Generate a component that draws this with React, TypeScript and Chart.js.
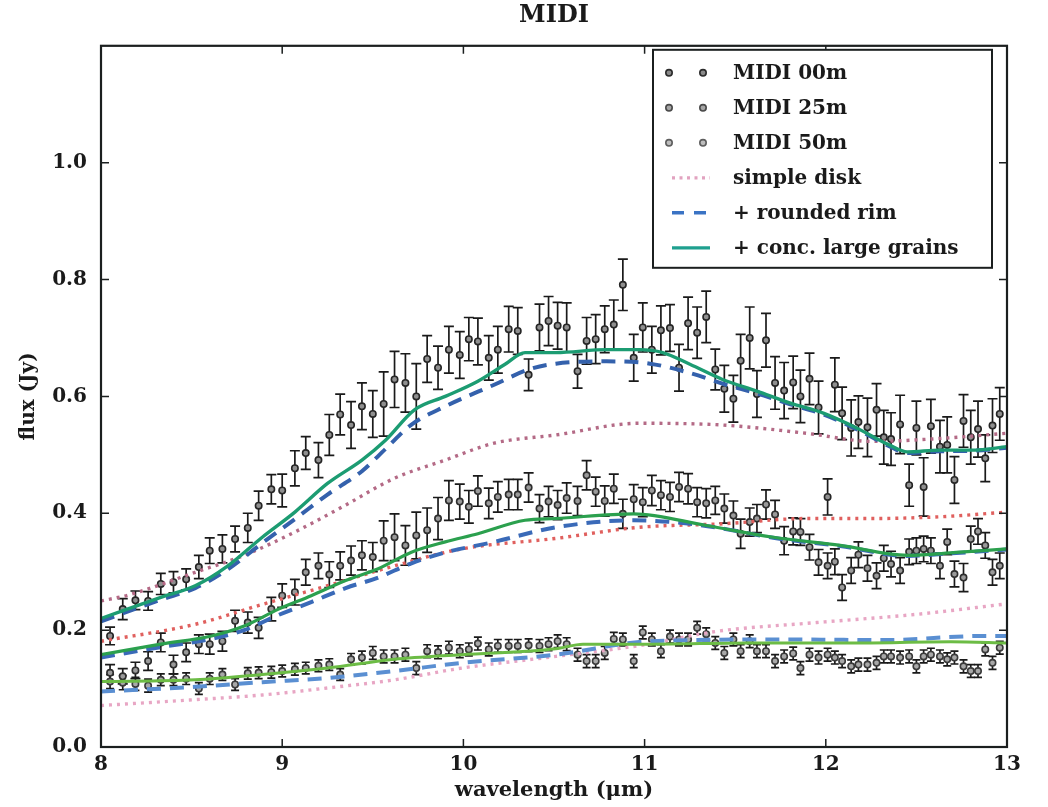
import React, { useEffect, useRef } from 'react';
import { Chart, registerables } from 'chart.js';

Chart.register(...registerables);

// ---------- data ----------
const wavelength = [
  8.05, 8.12, 8.19, 8.26, 8.33, 8.40, 8.47, 8.54, 8.60, 8.67,
  8.74, 8.81, 8.87, 8.94, 9.00, 9.07, 9.13, 9.20, 9.26, 9.32,
  9.38, 9.44, 9.50, 9.56, 9.62, 9.68, 9.74, 9.80, 9.86, 9.92,
  9.98, 10.03, 10.08, 10.14, 10.19, 10.25, 10.30, 10.36, 10.42, 10.47,
  10.52, 10.57, 10.63, 10.68, 10.73, 10.78, 10.83, 10.88, 10.94, 10.99,
  11.04, 11.09, 11.14, 11.19, 11.24, 11.29, 11.34, 11.39, 11.44, 11.49,
  11.53, 11.58, 11.62, 11.67, 11.72, 11.77, 11.82, 11.86, 11.91, 11.96,
  12.01, 12.05, 12.09, 12.14, 12.18, 12.23, 12.28, 12.32, 12.36, 12.41,
  12.46, 12.50, 12.54, 12.58, 12.63, 12.67, 12.71, 12.76, 12.80, 12.84,
  12.88, 12.92, 12.96,
];

const midi00 = [
  0.190, 0.236, 0.251, 0.250, 0.279, 0.282, 0.287, 0.308, 0.336, 0.339,
  0.356, 0.375, 0.413, 0.441, 0.439, 0.477, 0.503, 0.491, 0.534, 0.569,
  0.551, 0.583, 0.570, 0.587, 0.629, 0.623, 0.600, 0.664, 0.649, 0.680,
  0.671, 0.698, 0.694, 0.666, 0.680, 0.715, 0.712, 0.637, 0.718, 0.729,
  0.721, 0.718, 0.643, 0.695, 0.698, 0.715, 0.723, 0.791, 0.666, 0.718,
  0.680, 0.713, 0.717, 0.649, 0.725, 0.709, 0.736, 0.646, 0.613, 0.596,
  0.661, 0.700, 0.604, 0.696, 0.623, 0.610, 0.624, 0.600, 0.630, 0.581,
  0.428, 0.620, 0.571, 0.546, 0.556, 0.547, 0.577, 0.530, 0.527, 0.552,
  0.448, 0.546, 0.445, 0.549, 0.514, 0.517, 0.457, 0.558, 0.530, 0.544,
  0.494, 0.550, 0.570,
];
const err00 = [
  0.015, 0.018, 0.016, 0.016, 0.018, 0.018, 0.018, 0.020,
  0.022, 0.024, 0.022, 0.025, 0.025, 0.025,
  0.028, 0.030, 0.028, 0.030, 0.035,
  0.035, 0.040, 0.040, 0.040, 0.055,
  0.048, 0.050, 0.056, 0.040, 0.037, 0.040, 0.040,
  0.037, 0.040, 0.038, 0.040, 0.039, 0.040, 0.027, 0.040, 0.042, 0.040, 0.042,
  0.029, 0.040, 0.042, 0.040, 0.042, 0.044, 0.040, 0.042, 0.040, 0.042, 0.040, 0.040, 0.045, 0.044, 0.044, 0.035, 0.040, 0.040,
  0.045, 0.053, 0.040, 0.046, 0.045, 0.048, 0.045, 0.045, 0.044, 0.045,
  0.031, 0.046, 0.045, 0.048, 0.045, 0.050, 0.045, 0.046, 0.045, 0.050,
  0.036, 0.046, 0.050, 0.046, 0.045, 0.048, 0.040, 0.045, 0.046, 0.048,
  0.040, 0.046, 0.045,
];

const midi25 = [
  0.127, 0.121, 0.131, 0.147, 0.179, 0.141, 0.162, 0.176, 0.176, 0.181,
  0.216, 0.213, 0.204, 0.236, 0.259, 0.265, 0.299, 0.310, 0.295, 0.310,
  0.319, 0.328, 0.325, 0.353, 0.359, 0.345, 0.362, 0.371, 0.391, 0.422,
  0.420, 0.411, 0.438, 0.417, 0.428, 0.432, 0.432, 0.444, 0.408, 0.420,
  0.414, 0.426, 0.421, 0.465, 0.437, 0.421, 0.442, 0.399, 0.424, 0.419,
  0.439, 0.431, 0.428, 0.445, 0.442, 0.419, 0.417, 0.422, 0.408, 0.396,
  0.365, 0.385, 0.391, 0.415, 0.398, 0.353, 0.369, 0.368, 0.342, 0.316,
  0.310, 0.317, 0.273, 0.302, 0.329, 0.306, 0.293, 0.323, 0.313, 0.302,
  0.334, 0.336, 0.339, 0.336, 0.310, 0.351, 0.296, 0.290, 0.356, 0.369,
  0.345, 0.299, 0.310,
];
const err25 = [
  0.014, 0.013, 0.014, 0.016, 0.016, 0.016, 0.016, 0.016, 0.017, 0.017,
  0.018, 0.018, 0.018, 0.020,
  0.020, 0.022, 0.022, 0.022, 0.022, 0.024, 0.025, 0.025, 0.025,
  0.034, 0.040, 0.034, 0.040, 0.038, 0.036, 0.034, 0.030,
  0.028, 0.026, 0.026, 0.026, 0.026, 0.026, 0.025, 0.024, 0.026, 0.025,
  0.026, 0.025, 0.025, 0.025, 0.026, 0.025, 0.025, 0.025, 0.025, 0.026,
  0.025, 0.025, 0.025, 0.026, 0.025, 0.025, 0.024, 0.025, 0.025,
  0.025, 0.024, 0.024, 0.025, 0.024, 0.024, 0.023, 0.023, 0.022, 0.022,
  0.022, 0.022, 0.022, 0.022, 0.022, 0.022, 0.022, 0.022, 0.022, 0.022,
  0.022, 0.022, 0.022, 0.022, 0.022, 0.022, 0.022, 0.024, 0.022, 0.022,
  0.022, 0.022, 0.022,
];

const midi50 = [
  0.112, 0.110, 0.108, 0.105, 0.115, 0.115, 0.117, 0.100, 0.117, 0.124,
  0.107, 0.126, 0.127, 0.128, 0.130, 0.133, 0.135, 0.139, 0.141, 0.124,
  0.150, 0.153, 0.161, 0.155, 0.155, 0.158, 0.135, 0.164, 0.162, 0.170,
  0.164, 0.167, 0.177, 0.167, 0.173, 0.173, 0.173, 0.174, 0.173, 0.176,
  0.181, 0.176, 0.158, 0.147, 0.147, 0.161, 0.185, 0.184, 0.147, 0.196,
  0.184, 0.164, 0.189, 0.184, 0.184, 0.204, 0.193, 0.178, 0.161, 0.184,
  0.164, 0.181, 0.164, 0.164, 0.147, 0.155, 0.160, 0.135, 0.158, 0.153,
  0.158, 0.153, 0.147, 0.138, 0.141, 0.141, 0.144, 0.155, 0.155, 0.153,
  0.155, 0.138, 0.155, 0.158, 0.155, 0.150, 0.153, 0.138, 0.130, 0.130,
  0.167, 0.144, 0.170,
];
const err50 = [
  0.012, 0.012, 0.011, 0.011, 0.010, 0.010, 0.010, 0.010, 0.010, 0.010,
  0.010, 0.010, 0.010, 0.010, 0.010, 0.010, 0.010, 0.010, 0.010, 0.010,
  0.010, 0.011, 0.011, 0.011, 0.011, 0.011, 0.011, 0.011, 0.011, 0.011,
  0.011, 0.011, 0.011, 0.011, 0.011, 0.011, 0.011, 0.011, 0.011, 0.011,
  0.011, 0.011, 0.011, 0.011, 0.011, 0.011, 0.011, 0.011, 0.011, 0.011,
  0.011, 0.011, 0.011, 0.011, 0.011, 0.011, 0.011, 0.011, 0.011, 0.011,
  0.011, 0.011, 0.011, 0.011, 0.011, 0.011, 0.011, 0.011, 0.011, 0.011,
  0.011, 0.011, 0.011, 0.011, 0.011, 0.011, 0.011, 0.011, 0.011, 0.011,
  0.011, 0.011, 0.011, 0.011, 0.011, 0.011, 0.011, 0.011, 0.011, 0.011,
  0.011, 0.011, 0.011,
];

// models: simple disk (dotted), + rounded rim (dashed), + conc. large grains (solid)
const disk00Wave = [8.0, 8.15, 8.52, 8.79, 9.07, 9.35, 9.62, 9.9, 10.17, 10.51, 10.97, 11.43, 11.89, 12.26, 12.63, 13.0];
const disk00Flux = [0.25, 0.26, 0.299, 0.328, 0.368, 0.414, 0.46, 0.491, 0.52, 0.534, 0.554, 0.551, 0.537, 0.523, 0.528, 0.537];
const rim00Wave = [8.0, 8.33, 8.52, 8.7, 8.89, 9.07, 9.25, 9.44, 9.57, 9.71, 9.9, 10.17, 10.36, 10.51, 10.79, 11.03, 11.25, 11.45, 11.62, 11.8, 11.99, 12.17, 12.35, 12.45, 12.63, 12.81, 13.0];
const rim00Flux = [0.215, 0.252, 0.272, 0.304, 0.349, 0.39, 0.432, 0.472, 0.51, 0.551, 0.583, 0.62, 0.646, 0.656, 0.66, 0.656, 0.64, 0.62, 0.605, 0.587, 0.569, 0.544, 0.515, 0.503, 0.506, 0.507, 0.512];
const grains00Wave = [8.0, 8.33, 8.52, 8.7, 8.89, 9.07, 9.25, 9.44, 9.57, 9.73, 9.9, 10.08, 10.23, 10.34, 10.51, 10.79, 10.97, 11.1, 11.25, 11.43, 11.62, 11.8, 11.99, 12.17, 12.35, 12.45, 12.63, 12.81, 13.0];
const grains00Flux = [0.22, 0.256, 0.276, 0.31, 0.359, 0.402, 0.451, 0.491, 0.525, 0.577, 0.6, 0.626, 0.655, 0.675, 0.675, 0.68, 0.68, 0.675, 0.655, 0.629, 0.609, 0.589, 0.571, 0.546, 0.517, 0.505, 0.508, 0.508, 0.514];

const disk25Wave = [8.0, 8.52, 8.89, 9.25, 9.62, 9.99, 10.51, 10.97, 11.43, 11.89, 12.26, 12.63, 13.0];
const disk25Flux = [0.181, 0.21, 0.244, 0.276, 0.31, 0.339, 0.357, 0.376, 0.382, 0.391, 0.391, 0.394, 0.402];
const rim25Wave = [8.0, 8.33, 8.61, 8.79, 8.98, 9.16, 9.35, 9.53, 9.71, 9.9, 10.17, 10.51, 10.94, 11.25, 11.5, 11.71, 12.08, 12.45, 12.72, 13.0];
const rim25Flux = [0.153, 0.171, 0.185, 0.2, 0.226, 0.248, 0.272, 0.29, 0.314, 0.333, 0.351, 0.376, 0.388, 0.382, 0.37, 0.358, 0.344, 0.327, 0.332, 0.338];
const grains25Wave = [8.0, 8.33, 8.61, 8.79, 8.98, 9.16, 9.35, 9.53, 9.71, 9.9, 10.08, 10.34, 10.51, 10.94, 11.34, 11.71, 12.08, 12.45, 12.72, 13.0];
const grains25Flux = [0.158, 0.176, 0.19, 0.207, 0.236, 0.259, 0.285, 0.305, 0.333, 0.351, 0.365, 0.388, 0.391, 0.399, 0.379, 0.359, 0.345, 0.328, 0.333, 0.339];

const disk50Wave = [8.0, 8.52, 8.89, 9.25, 9.62, 9.99, 10.51, 11.0, 11.4, 11.95, 12.5, 13.0];
const disk50Flux = [0.071, 0.081, 0.089, 0.101, 0.115, 0.135, 0.155, 0.175, 0.198, 0.213, 0.227, 0.245];
const rim50Wave = [8.0, 8.52, 8.89, 9.25, 9.62, 9.99, 10.51, 11.03, 11.77, 12.32, 12.87, 13.0];
const rim50Flux = [0.095, 0.103, 0.111, 0.118, 0.13, 0.144, 0.158, 0.181, 0.184, 0.183, 0.19, 0.19];
const grains50Wave = [8.0, 8.52, 8.89, 9.25, 9.62, 9.99, 10.51, 10.66, 11.03, 11.58, 12.13, 12.69, 13.0];
const grains50Flux = [0.112, 0.115, 0.124, 0.135, 0.15, 0.158, 0.168, 0.176, 0.176, 0.178, 0.178, 0.18, 0.178];

const xTicks = [8, 9, 10, 11, 12, 13];
const yTicks = [0.0, 0.2, 0.4, 0.6, 0.8, 1.0];
const legendLabels = ['MIDI 00m', 'MIDI 25m', 'MIDI 50m', 'simple disk', '+ rounded rim', '+ conc. large grains'];

// ---------- helpers ----------
const FONT = '"DejaVu Serif", "Liberation Serif", serif';
const INK = '#1b1f1f';

const pts = (xs: number[], ys: number[]) => xs.map((x, i) => ({ x, y: ys[i] }));

const dataSet = (label: string, ys: number[], errs: number[], edge: string, fill: string, cap: number) => ({
  label,
  data: pts(wavelength, ys),
  errors: errs,
  errCap: cap,
  showLine: false,
  pointRadius: 3.2,
  pointBorderWidth: 1.6,
  pointBorderColor: edge,
  pointBackgroundColor: fill,
  order: 10,
});

const modelSet = (label: string, xs: number[], ys: number[], color: string, width: number, dash: number[], order: number) => ({
  label,
  data: pts(xs, ys),
  showLine: true,
  borderColor: color,
  borderWidth: width,
  borderDash: dash,
  pointRadius: 0,
  cubicInterpolationMode: 'monotone',
  fill: false,
  order,
});

const errorBarPlugin = {
  id: 'errorBars',
  beforeDatasetsDraw(chart: any) {
    const { ctx, chartArea, scales } = chart;
    const xs = scales.x;
    const ys = scales.y;
    ctx.save();
    ctx.beginPath();
    ctx.rect(chartArea.left, chartArea.top, chartArea.right - chartArea.left, chartArea.bottom - chartArea.top);
    ctx.clip();
    ctx.strokeStyle = '#1a1a1a';
    ctx.lineWidth = 1.7;
    chart.data.datasets.forEach((ds: any) => {
      if (!ds.errors) return;
      const cap = ds.errCap;
      ds.data.forEach((p: any, j: number) => {
        const e = ds.errors[j];
        const px = xs.getPixelForValue(p.x);
        const top = ys.getPixelForValue(p.y + e);
        const bot = ys.getPixelForValue(p.y - e);
        ctx.beginPath();
        ctx.moveTo(px, top);
        ctx.lineTo(px, bot);
        ctx.moveTo(px - cap, top);
        ctx.lineTo(px + cap, top);
        ctx.moveTo(px - cap, bot);
        ctx.lineTo(px + cap, bot);
        ctx.stroke();
      });
    });
    ctx.restore();
  },
};

const framePlugin = {
  id: 'frameTicks',
  afterDatasetsDraw(chart: any) {
    const { ctx, chartArea: a, scales } = chart;
    ctx.save();
    ctx.strokeStyle = INK;
    ctx.lineWidth = 1.5;
    const tl = 8;
    xTicks.forEach((v) => {
      if (v === xTicks[0] || v === xTicks[xTicks.length - 1]) return;
      const px = scales.x.getPixelForValue(v);
      ctx.beginPath();
      ctx.moveTo(px, a.bottom);
      ctx.lineTo(px, a.bottom - tl);
      ctx.moveTo(px, a.top);
      ctx.lineTo(px, a.top + tl);
      ctx.stroke();
    });
    yTicks.forEach((v) => {
      if (v === 0) return;
      const py = scales.y.getPixelForValue(v);
      ctx.beginPath();
      ctx.moveTo(a.left, py);
      ctx.lineTo(a.left + tl, py);
      ctx.moveTo(a.right, py);
      ctx.lineTo(a.right - tl, py);
      ctx.stroke();
    });
    ctx.lineWidth = 2.2;
    ctx.strokeRect(a.left, a.top, a.right - a.left, a.bottom - a.top);
    ctx.restore();
  },
};

const legendPlugin = {
  id: 'boxLegend',
  afterDraw(chart: any) {
    const { ctx, chartArea: a } = chart;
    const bw = 339;
    const bh = 218;
    const bx = a.right - 15 - bw;
    const by = a.top + 4;
    ctx.save();
    ctx.fillStyle = '#ffffff';
    ctx.fillRect(bx, by, bw, bh);
    ctx.strokeStyle = INK;
    ctx.lineWidth = 2;
    ctx.strokeRect(bx, by, bw, bh);
    const rowY = (i: number) => by + 23 + i * 35;
    const m1 = bx + 16;
    const m2 = bx + 50;
    const dotEdges = ['#2c2c2c', '#4a4a4a', '#5e5e5e'];
    const dotFills = ['#8a8a8a', '#a6a6a6', '#bdbdbd'];
    for (let i = 0; i < 3; i++) {
      [m1, m2].forEach((mx) => {
        ctx.beginPath();
        ctx.arc(mx, rowY(i), 3.2, 0, Math.PI * 2);
        ctx.fillStyle = dotFills[i];
        ctx.fill();
        ctx.lineWidth = 1.6;
        ctx.strokeStyle = dotEdges[i];
        ctx.stroke();
      });
    }
    const lineRow = (i: number, color: string, width: number, dash: number[]) => {
      ctx.beginPath();
      ctx.setLineDash(dash);
      ctx.strokeStyle = color;
      ctx.lineWidth = width;
      ctx.moveTo(bx + 19, rowY(i));
      ctx.lineTo(bx + 57, rowY(i));
      ctx.stroke();
      ctx.setLineDash([]);
    };
    lineRow(3, '#e2a3c0', 3.2, [3, 4.5]);
    lineRow(4, '#3a73c4', 3.6, [12, 10]);
    lineRow(5, '#1fa08f', 3.2, []);
    ctx.fillStyle = '#1a1a1a';
    ctx.font = `bold 20px ${FONT}`;
    ctx.textBaseline = 'middle';
    ctx.textAlign = 'left';
    legendLabels.forEach((t, i) => ctx.fillText(t, bx + 80, rowY(i) + 1));
    ctx.restore();
  },
};

export default function App() {
  const canvasRef = useRef<HTMLCanvasElement | null>(null);

  useEffect(() => {
    if (!canvasRef.current) return;
    const tickFont = { family: FONT, size: 20, weight: 'bold' as const };
    const chart = new Chart(canvasRef.current, {
      type: 'scatter',
      data: {
        datasets: [
          dataSet('MIDI 00m', midi00, err00, '#262626', '#8f8f8f', 5),
          dataSet('MIDI 25m', midi25, err25, '#2e2e2e', '#9a9a9a', 5),
          dataSet('MIDI 50m', midi50, err50, '#3a3a3a', '#a8a8a8', 4),
          modelSet('simple disk 00m', disk00Wave, disk00Flux, '#b46a86', 3.4, [3, 5], 5),
          modelSet('simple disk 25m', disk25Wave, disk25Flux, '#e0605e', 3.4, [3, 5], 5),
          modelSet('simple disk 50m', disk50Wave, disk50Flux, '#e8a6c4', 3.4, [3, 5], 5),
          modelSet('rounded rim 00m', rim00Wave, rim00Flux, '#3461ac', 4, [14, 9], 3),
          modelSet('rounded rim 25m', rim25Wave, rim25Flux, '#3a6ab8', 4, [14, 9], 3),
          modelSet('rounded rim 50m', rim50Wave, rim50Flux, '#5a8fd2', 4, [14, 9], 3),
          modelSet('large grains 00m', grains00Wave, grains00Flux, '#1c9c72', 3.4, [], 1),
          modelSet('large grains 25m', grains25Wave, grains25Flux, '#2ba04e', 3.2, [], 1),
          modelSet('large grains 50m', grains50Wave, grains50Flux, '#6cbc45', 3, [], 1),
        ] as any,
      },
      options: {
        responsive: false,
        animation: false,
        layout: { padding: { left: 0, right: 41, top: 0, bottom: 0 } },
        plugins: {
          legend: { display: false },
          tooltip: { enabled: false },
          title: {
            display: true,
            fullSize: false,
            text: 'MIDI',
            color: '#1a1a1a',
            font: { family: FONT, size: 24, weight: 'bold' },
            padding: { top: 1, bottom: 16 },
          },
        },
        scales: {
          x: {
            type: 'linear',
            min: 8,
            max: 13,
            afterBuildTicks: (s: any) => {
              s.ticks = xTicks.map((v) => ({ value: v }));
            },
            afterFit: (s: any) => {
              s.height = 60;
            },
            grid: { display: false, drawTicks: false },
            border: { display: false },
            ticks: {
              padding: 6,
              color: '#1a1a1a',
              font: tickFont,
              maxRotation: 0,
              callback: (v: any) => String(v),
            },
            title: {
              display: true,
              text: 'wavelength (μm)',
              color: '#1a1a1a',
              font: { family: FONT, size: 21, weight: 'bold' },
              padding: { top: 0, bottom: 4 },
            },
          },
          y: {
            type: 'linear',
            min: 0,
            max: 1.2,
            afterBuildTicks: (s: any) => {
              s.ticks = yTicks.map((v) => ({ value: v }));
            },
            afterFit: (s: any) => {
              s.width = 101;
            },
            grid: { display: false, drawTicks: false },
            border: { display: false },
            ticks: {
              padding: 14,
              color: '#1a1a1a',
              font: tickFont,
              callback: (v: any) => Number(v).toFixed(1),
            },
            title: {
              display: true,
              text: 'flux (Jy)',
              color: '#1a1a1a',
              font: { family: FONT, size: 20, weight: 'bold' },
              padding: { top: 17, bottom: 0 },
            },
          },
        },
      } as any,
      plugins: [errorBarPlugin, framePlugin, legendPlugin],
    });
    return () => chart.destroy();
  }, []);

  return (
    <div style={{ position: 'absolute', left: 0, top: 0, width: 1048, height: 807, background: '#ffffff' }}>
      <canvas ref={canvasRef} width={1048} height={807} style={{ display: 'block', width: 1048, height: 807 }} />
    </div>
  );
}
